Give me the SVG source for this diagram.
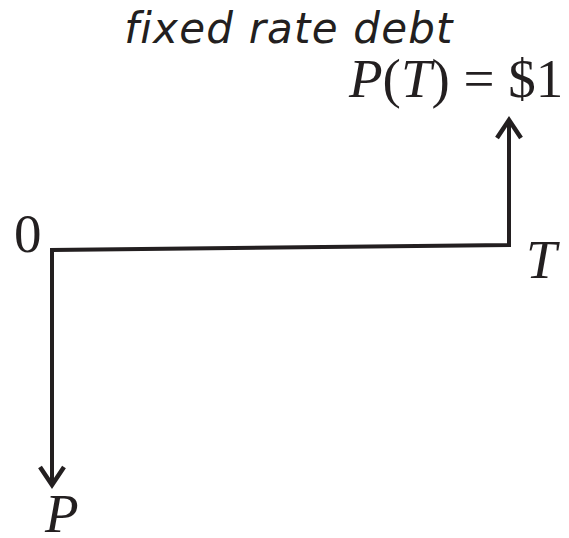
<svg xmlns="http://www.w3.org/2000/svg" width="569" height="538" viewBox="0 0 569 538">
<style>
.ln{fill:none;stroke:#231f20;stroke-width:4;}
.ah{fill:none;stroke:#231f20;stroke-width:4.5;stroke-linejoin:miter;}
.math{font-family:"Liberation Serif",serif;fill:#231f20;font-size:55px;}
.it{font-style:italic;}
.title{font-family:"DejaVu Sans",sans-serif;font-style:italic;font-size:42px;fill:#231f20;letter-spacing:1.2px;}
</style>
<rect width="569" height="538" fill="#fff"/>
<g id="connectors">
<path class="ln" d="M52,486 V250 L509,245 V120"/>
<path class="ah" d="M497,138 L509,120 L521,138"/>
<path class="ah" d="M40,467 L52,485 L64,467"/>
</g>
<g id="title"><text class="title" x="289" y="43" text-anchor="middle">fixed rate debt</text></g>
<g id="payoff"><text class="math" x="349" y="97" font-size="57"><tspan class="it">P</tspan>(<tspan class="it">T</tspan>) = $1</text></g>
<g id="zero"><text class="math" x="14" y="252">0</text></g>
<g id="t"><text class="math it" x="526" y="278">T</text></g>
<g id="p"><text class="math it" x="45" y="532" font-size="50">P</text></g>
</svg>
